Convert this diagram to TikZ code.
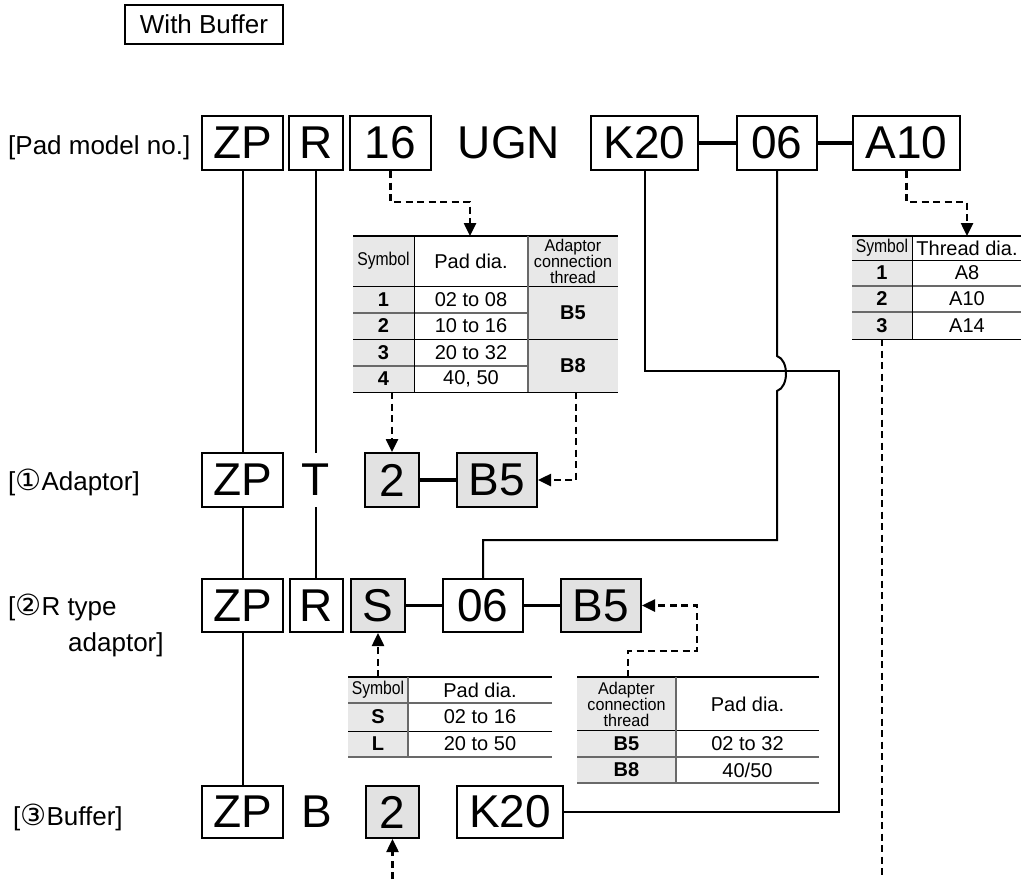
\documentclass[tikz,border=0pt]{standalone}
\usepackage{fontspec}
\setmainfont{Liberation Sans}
\newfontfamily\dejavu{DejaVu Sans}
\newfontfamily\condfont[FakeStretch=0.85]{Liberation Sans}
\newfontfamily\hdcond[FakeStretch=0.95]{Liberation Sans}
\usetikzlibrary{arrows.meta}
\definecolor{cellgray}{RGB}{232,232,232}
\definecolor{boxgray}{RGB}{226,226,226}
\definecolor{rulegray}{RGB}{105,105,105}
\newcommand{\bigfont}{\fontsize{46}{46}\selectfont}
\newcommand{\labfont}{\fontsize{26}{28}\selectfont}
\newcommand{\tabfont}{\fontsize{20}{20}\selectfont}
\newcommand{\hdfont}{\hdcond\fontsize{17}{16}\selectfont}
\newcommand{\symfont}{\condfont\fontsize{18.5}{18.5}\selectfont}
\newcommand{\circnum}[1]{{\dejavu\scalebox{1.12}{#1}}}
\begin{document}
\begin{tikzpicture}[x=1pt,y=-1pt,
  mbox/.style={draw, line width=2pt, inner sep=0pt, minimum height=54pt, font=\bigfont},
  gbox/.style={mbox, fill=boxgray},
  plain/.style={inner sep=0pt, minimum height=54pt, font=\bigfont},
  lbl/.style={anchor=base west, inner sep=0pt, font=\labfont},
  link/.style={line width=2pt},
  joint/.style={line width=3.2pt},
  dline/.style={line width=2.5pt, dash pattern=on 7pt off 4.5pt},
  darr/.style={dline, -{Triangle[length=13pt,width=12pt]}},
  toprule/.style={line width=2pt},
  rule/.style={line width=1pt},
  grule/.style={rulegray, line width=1.3pt},
  cell/.style={inner sep=0pt, font=\tabfont},
  bcell/.style={inner sep=0pt, font=\tabfont\bfseries},
  scell/.style={inner sep=0pt, font=\symfont},
  hcell/.style={inner sep=0pt, font=\hdfont, align=center}
]
\useasboundingbox (0,0) rectangle (1021,879);

% title
\node[draw, line width=1.2pt, minimum width=158pt, minimum height=39pt, inner sep=0pt, font=\labfont] (wb) at (204,24.5) {With Buffer};

% row 1: pad model no.
\node[lbl] (lpad) at (8,154) {[Pad model no.]};
\node[mbox, minimum width=81pt] (zp1) at (242.5,143) {ZP};
\node[mbox, minimum width=54pt] (r1) at (316,143) {R};
\node[mbox, minimum width=81pt] (n16) at (390.5,143) {16};
\node[plain] (ugn) at (509,143) {UGN};
\node[mbox, minimum width=107pt] (k20a) at (644.5,143) {K20};
\node[mbox, minimum width=80pt] (o6a) at (777,143) {06};
\node[mbox, minimum width=107pt] (a10) at (906.5,143) {A10};

% row 2: adaptor
\node[lbl] (ladp) at (8,490) {[\circnum{①}Adaptor]};
\node[mbox, minimum width=81pt] (zp2) at (242.5,480) {ZP};
\node[plain] (t2) at (316,480) {T};
\node[gbox, minimum width=54pt] (two) at (392,480) {2};
\node[gbox, minimum width=80pt] (b5a) at (497,480) {B5};

% row 3: R type adaptor
\node[lbl] (lrt) at (8,615) {[\circnum{②}R type};
\node[lbl] (lrt2) at (68,651) {adaptor]};
\node[mbox, minimum width=81pt, minimum height=53pt] (zp3) at (242.5,605.5) {ZP};
\node[mbox, minimum width=53pt, minimum height=53pt] (r3) at (316,605.5) {R};
\node[gbox, minimum width=54pt, minimum height=53pt] (s3) at (378,605.5) {S};
\node[mbox, minimum width=80pt, minimum height=53pt] (o6b) at (483,605.5) {06};
\node[gbox, minimum width=80pt, minimum height=53pt] (b5b) at (601,605.5) {B5};

% row 4: buffer
\node[lbl] (lbuf) at (13,825) {[\circnum{③}Buffer]};
\node[mbox, minimum width=81pt, minimum height=52pt] (zp4) at (242.5,812) {ZP};
\node[plain, minimum height=52pt] (b4) at (317,812) {B};
\node[gbox, minimum width=53pt, minimum height=52pt] (two4) at (392.5,812) {2};
\node[mbox, minimum width=106pt, minimum height=52pt] (k20b) at (510,812) {K20};

% vertical links
\draw[link] (zp1) -- (zp2) (zp2) -- (zp3) (zp3) -- (zp4);
\draw[link] (r1) -- (t2) (t2) -- (r3);

% horizontal joints
\draw[joint] (k20a) -- (o6a);
\draw[joint] (o6a) -- (a10);
\draw[joint] (two) -- (b5a);
\draw[joint] (s3) -- (o6b);
\draw[joint] (o6b) -- (b5b);

% K20 route
\coordinate (kr) at (839,371);
\draw[link] (k20a.south) |- (kr) |- (k20b.east);

% 06 route with hop
\coordinate (h1) at (777,356);
\coordinate (h2) at (777,391);
\coordinate (oc) at (777,540);
\draw[link] (o6a.south) -- (h1) .. controls (789,360) and (789,387) .. (h2) -- (oc) -| (o6b.north);

% ---------- table 1 ----------
\fill[cellgray] (353,236) rectangle (414,392);
\fill[cellgray] (528,236) rectangle (618,392);
\draw[toprule] (353,236) -- (618,236);
\draw[rule] (353,286) -- (618,286);
\draw[grule] (353,313) -- (528,313);
\draw[rule] (353,339) -- (618,339);
\draw[grule] (353,366) -- (528,366);
\draw[rule] (353,392) -- (618,392);
\draw[rule] (414,236) -- (414,392);
\draw[grule] (528,236) -- (528,392);
\node[scell] (t1h1) at (383.5,261) {Symbol};
\node[cell] (t1h2) at (471,261) {Pad dia.};
\node[hcell] (t1h3) at (573,261) {Adaptor\\connection\\thread};
\node[bcell] (t1a1) at (383.5,299.5) {1};
\node[bcell] (t1a2) at (383.5,326) {2};
\node[bcell] (t1a3) at (383.5,352.5) {3};
\node[bcell] (t1a4) at (383.5,379) {4};
\node[cell] (t1b1) at (471,299.5) {02 to 08};
\node[cell] (t1b2) at (471,326) {10 to 16};
\node[cell] (t1b3) at (471,352.5) {20 to 32};
\node[cell] (t1b4) at (471,379) {40, 50};
\node[bcell] (t1c1) at (573,312.5) {B5};
\node[bcell] (t1c2) at (573,365.5) {B8};

% ---------- table 2 ----------
\fill[cellgray] (348,677) rectangle (408,757);
\draw[toprule] (348,677) -- (552,677);
\draw[grule] (348,703) -- (552,703);
\draw[rule] (348,731) -- (552,731);
\draw[grule] (348,757) -- (552,757);
\draw[grule] (408,677) -- (408,757);
\node[scell] (t2h1) at (378,690) {Symbol};
\node[cell] (t2h2) at (480,690) {Pad dia.};
\node[bcell] (t2a1) at (378,717) {S};
\node[cell] (t2b1) at (480,717) {02 to 16};
\node[bcell] (t2a2) at (378,744) {L};
\node[cell] (t2b2) at (480,744) {20 to 50};

% ---------- table 3 ----------
\fill[cellgray] (577,677) rectangle (676,783);
\draw[toprule] (577,677) -- (819,677);
\draw[rule] (577,730) -- (819,730);
\draw[grule] (577,757) -- (819,757);
\draw[grule] (577,783) -- (819,783);
\draw[grule] (676,677) -- (676,783);
\node[hcell] (t3h1) at (626.5,704) {Adapter\\connection\\thread};
\node[cell] (t3h2) at (747.5,704) {Pad dia.};
\node[bcell] (t3a1) at (626.5,743.5) {B5};
\node[cell] (t3b1) at (747.5,743.5) {02 to 32};
\node[bcell] (t3a2) at (626.5,770) {B8};
\node[cell] (t3b2) at (747.5,770) {40/50};

% ---------- table 4 ----------
\fill[cellgray] (852,236) rectangle (912,339);
\draw[toprule] (852,236) -- (1021,236);
\draw[rule] (852,260) -- (1021,260);
\draw[grule] (852,286) -- (1021,286);
\draw[grule] (852,312) -- (1021,312);
\draw[rule] (852,339) -- (1021,339);
\draw[rule] (912,236) -- (912,339);
\node[scell] (t4h1) at (882,248) {Symbol};
\node[cell] (t4h2) at (967,248) {Thread dia.};
\node[bcell] (t4a1) at (882,273) {1};
\node[cell] (t4b1) at (967,273) {A8};
\node[bcell] (t4a2) at (882,299) {2};
\node[cell] (t4b2) at (967,299) {A10};
\node[bcell] (t4a3) at (882,325.5) {3};
\node[cell] (t4b3) at (967,325.5) {A14};

% ---------- dashed arrows ----------
\coordinate (d16b) at (470,202);
\coordinate (t1top) at (470,236);
\draw[darr] (n16.south) |- (d16b) -- (t1top);

\coordinate (t1bot1) at (392,392);
\draw[darr] (t1bot1) -- (two.north);

\coordinate (t1bot2) at (576,392);
\draw[darr] (t1bot2) |- (b5a.east);

\coordinate (da) at (967,202);
\coordinate (t4top) at (967,236);
\draw[darr] (a10.south) |- (da) -- (t4top);

\coordinate (t4bot) at (882,339);
\coordinate (bot1) at (882,879);
\draw[dline] (t4bot) -- (bot1);

\coordinate (t2top) at (378,677);
\draw[darr] (t2top) -- (s3.south);

\coordinate (t3top) at (628,677);
\coordinate (bb1) at (628,651);
\coordinate (bb2) at (697,651);
\draw[darr] (t3top) -- (bb1) -- (bb2) |- (b5b.east);

\coordinate (bot2) at (392.5,879);
\draw[darr] (bot2) -- (two4.south);
\end{tikzpicture}
\end{document}
